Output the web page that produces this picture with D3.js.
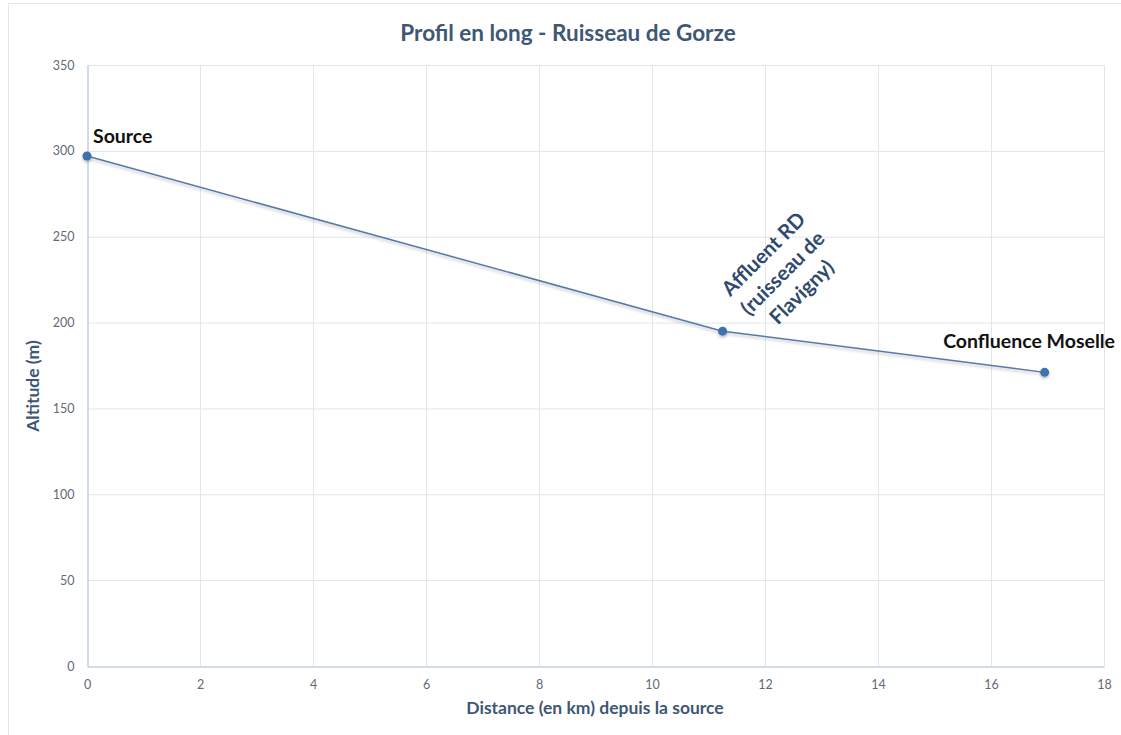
<!DOCTYPE html>
<html><head><meta charset="utf-8">
<script src="https://cdn.jsdelivr.net/npm/d3@7"></script>
<style>body{margin:0;background:#fff;} svg{display:block;}</style>
</head><body>
<svg id="c" width="1121" height="735"></svg>
<script>
const distances = [0, 11.25, 16.95];
const altitudes = [297, 195, 171];
const pointLabels = ["Source", "Affluent RD\n(ruisseau de\nFlavigny)", "Confluence Moselle"];
const xTicks = [0, 2, 4, 6, 8, 10, 12, 14, 16, 18];
const yTicks = [0, 50, 100, 150, 200, 250, 300, 350];
const title = "Profil en long - Ruisseau de Gorze";
const xTitle = "Distance (en km) depuis la source";
const yTitle = "Altitude (m)";

const svg = d3.select("#c");
const font = "Lato, 'Open Sans', sans-serif";
const L = 87, R = 1104, T = 65, B = 666;
const x = d3.scaleLinear().domain([0, 18]).range([L, R]);
const y = d3.scaleLinear().domain([0, 350]).range([B, T]);

svg.append("rect").attr("x", 8.5).attr("y", 3.5).attr("width", 1120).attr("height", 740)
  .attr("fill", "#fff").attr("stroke", "#e3e6ea");

const defs = svg.append("defs");
const f = defs.append("filter").attr("id", "sh").attr("x", "-10%").attr("y", "-50%").attr("width", "120%").attr("height", "200%");
f.append("feGaussianBlur").attr("in", "SourceAlpha").attr("stdDeviation", 1.5).attr("result", "b");
f.append("feOffset").attr("in", "b").attr("dy", 2).attr("result", "o");
f.append("feComponentTransfer").attr("in", "o").attr("result", "o2")
  .append("feFuncA").attr("type", "linear").attr("slope", 0.25);
const m = f.append("feMerge");
m.append("feMergeNode").attr("in", "o2");
m.append("feMergeNode").attr("in", "SourceGraphic");

// gridlines
svg.append("g").selectAll("line").data(yTicks.filter(d => d > 0)).join("line")
  .attr("x1", L).attr("x2", R).attr("y1", d => y(d) + 0.5).attr("y2", d => y(d) + 0.5)
  .attr("stroke", "#dfe6ee").attr("stroke-width", 1);
svg.append("g").selectAll("line").data(xTicks.filter(d => d > 0)).join("line")
  .attr("y1", T).attr("y2", B).attr("x1", d => x(d) + 0.5).attr("x2", d => x(d) + 0.5)
  .attr("stroke", "#dfe6ee").attr("stroke-width", 1);

// axes
const xa = svg.append("g").attr("transform", `translate(0,${B + 0.5})`)
  .call(d3.axisBottom(x).tickValues(xTicks).tickSize(0).tickPadding(14));
const ya = svg.append("g").attr("transform", `translate(${L + 0.5},0)`)
  .call(d3.axisLeft(y).tickValues(yTicks).tickSize(0).tickPadding(13));
[xa, ya].forEach(a => {
  a.select(".domain").attr("stroke", "#c3d0de").attr("stroke-width", 1.5);
  a.selectAll("text").attr("fill", "#5f6b78").style("font-family", font).style("font-size", "12.5px");
});

// line
const line = d3.line().x((d, i) => x(distances[i])).y(d => y(d));
svg.append("path").datum(altitudes).attr("d", line)
  .attr("fill", "none").attr("stroke", "#5679a8").attr("stroke-width", 1.5).attr("filter", "url(#sh)");
svg.append("g").selectAll("circle").data(altitudes).join("circle")
  .attr("cx", (d, i) => x(distances[i])).attr("cy", d => y(d)).attr("r", 4.5)
  .attr("fill", "#3f6fae").attr("filter", "url(#sh)");

// labels
svg.append("text").attr("x", x(distances[0]) + 6).attr("y", y(altitudes[0]) - 13)
  .text(pointLabels[0]).attr("fill", "#111").style("font-family", font)
  .style("font-size", "19.5px").style("font-weight", "bold");
svg.append("text").attr("y", y(altitudes[2]) - 24)
  .attr("text-anchor", "end").attr("x", 1115)
  .text(pointLabels[2]).attr("fill", "#111").style("font-family", font)
  .style("font-size", "19.5px").style("font-weight", "bold");
const aff = svg.append("text")
  .attr("transform", `translate(${x(distances[1]) + 60},${y(altitudes[1]) - 58}) rotate(-45)`)
  .attr("text-anchor", "middle").attr("fill", "#2f4a6d")
  .style("font-family", font).style("font-size", "20.5px").style("font-weight", "bold");
pointLabels[1].split("\n").forEach((s, i) => {
  aff.append("tspan").attr("x", 0).attr("y", (i - 1) * 27 + 7).text(s);
});

// titles
svg.append("text").attr("x", 568).attr("y", 41).attr("text-anchor", "middle").text(title)
  .attr("fill", "#3e5775").style("font-family", font).style("font-size", "22.5px").style("font-weight", "bold");
svg.append("text").attr("x", 595).attr("y", 714).attr("text-anchor", "middle").text(xTitle)
  .attr("fill", "#3e5775").style("font-family", font).style("font-size", "17.5px").style("font-weight", "bold");
svg.append("text").attr("transform", "translate(39,386) rotate(-90)").attr("text-anchor", "middle").text(yTitle)
  .attr("fill", "#3e5775").style("font-family", font).style("font-size", "17.5px").style("font-weight", "bold");
</script>
</body></html>
